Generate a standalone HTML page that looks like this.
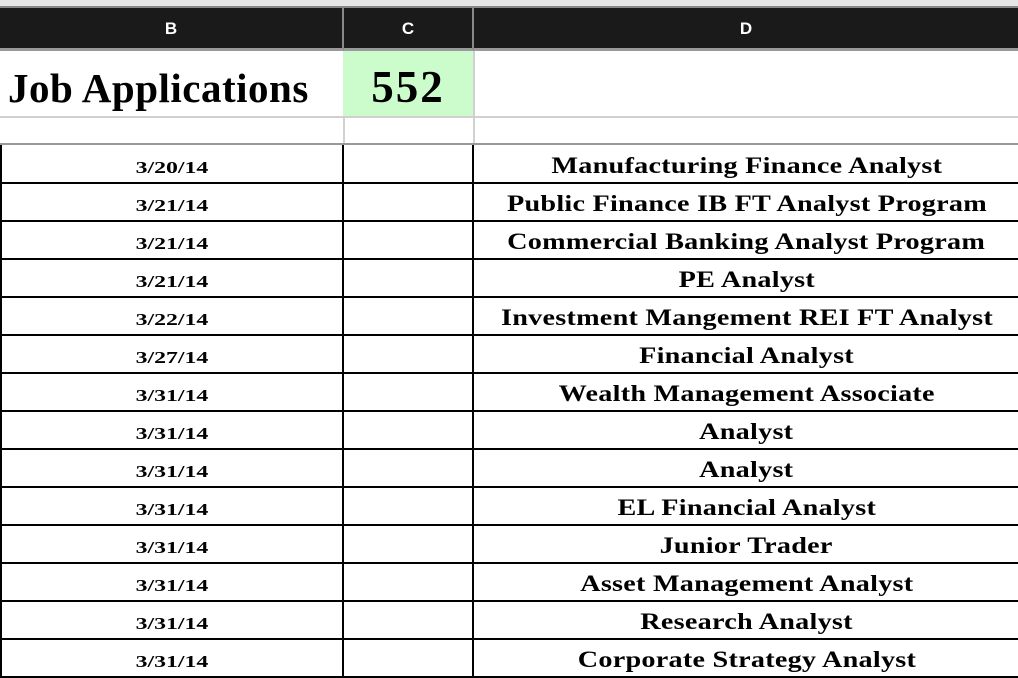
<!DOCTYPE html>
<html><head><meta charset="utf-8"><style>
body{margin:0;width:1018px;height:678px;overflow:hidden;background:#fff;font-family:"Liberation Serif",serif;position:relative}
.a{position:absolute;box-sizing:border-box}
.hdr{top:8px;height:43px;background:#1a1a1a;color:#fff;font-family:"Liberation Sans",sans-serif;font-weight:bold;font-size:17px;display:flex;align-items:center;justify-content:center;border-right:2px solid #888;border-bottom:3px solid #999;padding-top:2px}
.c{display:flex;align-items:center;justify-content:center;font-weight:bold;color:#000;white-space:nowrap}
.c span{display:inline-block}
.hl{height:2px;left:0;width:1018px;background:#000}
.vl{width:2px;top:145px;height:533px;background:#000}
</style></head><body>
<div class="a" style="top:0;left:0;width:1018px;height:8px;background:#e6e6e6;border-bottom:2px solid #888"></div>
<div class="a hdr" style="left:0;width:344px">B</div>
<div class="a hdr" style="left:344px;width:130px">C</div>
<div class="a hdr" style="left:474px;width:544px;border-right:none">D</div>
<div class="a c" style="top:51px;left:0;width:343px;height:66px;font-size:41px;letter-spacing:0.5px;justify-content:flex-start;padding-left:8px;padding-top:8px">Job Applications</div>
<div class="a c" style="top:51px;left:343px;width:130px;height:66px;background:#ccfccc;font-size:45px;letter-spacing:2px;padding-top:6px">552</div>
<div class="a" style="top:116px;left:0;width:1018px;height:2px;background:#d0d0d0"></div>
<div class="a" style="top:51px;left:473px;width:2px;height:94px;background:#d0d0d0"></div>
<div class="a" style="top:118px;left:343px;width:2px;height:27px;background:#d0d0d0"></div>
<div class="a" style="top:143px;left:0;width:1018px;height:2px;background:#999"></div>
<div id="rows"></div>
<script>
const dates=["3/20/14","3/21/14","3/21/14","3/21/14","3/22/14","3/27/14","3/31/14","3/31/14","3/31/14","3/31/14","3/31/14","3/31/14","3/31/14","3/31/14"];
const titles=["Manufacturing Finance Analyst","Public Finance IB FT Analyst Program","Commercial Banking Analyst Program","PE Analyst","Investment Mangement REI FT Analyst","Financial Analyst","Wealth Management Associate","Analyst","Analyst","EL Financial Analyst","Junior Trader","Asset Management Analyst","Research Analyst","Corporate Strategy Analyst"];
const root=document.getElementById('rows');
for(let i=0;i<dates.length;i++){
  const top=145+i*38;
  const d=document.createElement('div');
  d.className='a c';
  d.style.cssText=`top:${top+2}px;left:0;width:343px;height:36px;font-size:17px;padding-top:6px`;
  d.innerHTML=`<span style="transform:scaleX(1.4)">${dates[i]}</span>`;
  
  
  root.appendChild(d);
  const t=document.createElement('div');
  t.className='a c';
  t.style.cssText=`top:${top+2}px;left:475px;width:543px;height:36px;font-size:23.5px;padding-top:2px`;
  t.innerHTML=`<span style="transform:scaleX(1.2);letter-spacing:0.2px">${titles[i]}</span>`;
  
  
  root.appendChild(t);
  const l=document.createElement('div');
  l.className='a hl';
  l.style.top=(top+37)+'px';
  
  
  root.appendChild(l);
}
[0,342,472].forEach(x=>{
  const v=document.createElement('div');
  v.className='a vl';
  v.style.left=x+'px';
  
  
  root.appendChild(v);
});
</script>
</body></html>
